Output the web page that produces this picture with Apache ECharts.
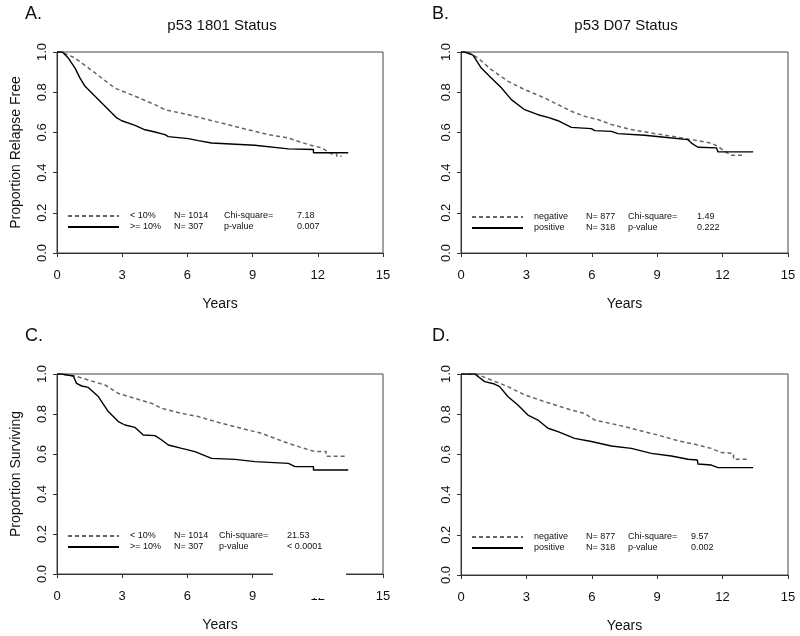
<!DOCTYPE html>
<html>
<head>
<meta charset="utf-8">
<script src="https://cdn.jsdelivr.net/npm/echarts@6/dist/echarts.min.js"></script>
<style>
html,body{margin:0;padding:0;background:#fff;}
#c{width:800px;height:636px;}
</style>
</head>
<body>
<div id="c"></div>
<script>
// ---- Data (years, proportion) ----
const xTickInterval = 3;
const yTickInterval = 0.2;

// Panel A: p53 1801 Status, relapse free
const aLow = [[0,1],[0.2,1],[0.83,0.97],[1.75,0.896],[2.67,0.82],[3.59,0.78],[4.51,0.738],[4.97,0.713],[6.04,0.688],[6.96,0.663],[7.88,0.638],[8.8,0.613],[9.73,0.589],[10.65,0.572],[11.57,0.539],[12.18,0.523],[12.64,0.493],[12.87,0.493],[12.87,0.481],[13.1,0.481]];
const aHigh = [[0,1],[0.25,1],[0.52,0.97],[0.83,0.92],[1.06,0.87],[1.29,0.829],[1.75,0.78],[2.21,0.73],[2.75,0.672],[2.98,0.658],[3.59,0.635],[4.05,0.613],[4.51,0.602],[4.97,0.589],[5.12,0.579],[6.04,0.569],[6.5,0.559],[7.11,0.547],[9.1,0.536],[10.65,0.518],[11.8,0.515],[11.8,0.499],[13.4,0.499]];

// Panel B: p53 D07 Status, relapse free
const bNeg = [[0,1],[0.32,1],[0.78,0.97],[1.39,0.912],[2.16,0.854],[2.92,0.813],[3.84,0.771],[4.45,0.738],[5.06,0.705],[5.67,0.68],[6.28,0.664],[6.9,0.639],[7.81,0.614],[8.73,0.597],[9.65,0.581],[10.57,0.564],[11.48,0.547],[11.79,0.53],[12.1,0.506],[12.4,0.486],[13.0,0.486]];
const bPos = [[0,1],[0.17,1],[0.55,0.984],[0.93,0.92],[1.39,0.871],[1.85,0.822],[2.31,0.763],[2.92,0.713],[3.53,0.688],[3.99,0.675],[4.45,0.658],[5.06,0.625],[5.98,0.619],[6.13,0.609],[6.9,0.605],[7.2,0.594],[8.42,0.586],[9.34,0.576],[10.41,0.564],[10.57,0.547],[10.87,0.526],[11.72,0.523],[11.79,0.503],[13.4,0.503]];

// Panel C: p53 1801, surviving
const cLow = [[0,1],[0.2,1],[0.83,0.99],[1.44,0.97],[2.21,0.945],[2.82,0.903],[3.59,0.878],[4.36,0.853],[4.82,0.828],[5.74,0.803],[6.5,0.787],[7.58,0.753],[8.5,0.728],[9.42,0.703],[10.03,0.678],[10.65,0.653],[11.26,0.632],[11.87,0.612],[12.38,0.612],[12.38,0.589],[13.35,0.589]];
const cHigh = [[0,1],[0.2,1],[0.75,0.99],[0.9,0.953],[1.14,0.94],[1.44,0.933],[1.9,0.887],[2.36,0.812],[2.82,0.762],[3.13,0.745],[3.59,0.733],[3.97,0.695],[4.51,0.692],[4.82,0.67],[5.12,0.645],[5.74,0.628],[6.35,0.612],[7.11,0.578],[8.19,0.573],[9.11,0.562],[10.65,0.553],[10.95,0.537],[11.8,0.537],[11.8,0.52],[13.4,0.52]];

// Panel D: p53 D07, surviving
const dNeg = [[0,1],[0.7,1],[1.39,0.97],[2.16,0.937],[2.92,0.896],[3.84,0.862],[5.06,0.821],[5.67,0.804],[6.13,0.771],[7.2,0.746],[8.12,0.721],[9.04,0.696],[9.95,0.668],[10.87,0.647],[11.48,0.63],[11.94,0.609],[12.5,0.605],[12.5,0.576],[13.24,0.576]];
const dPos = [[0,1],[0.63,1],[1.09,0.962],[1.54,0.95],[1.77,0.937],[2.16,0.887],[2.61,0.846],[3.07,0.796],[3.53,0.771],[3.99,0.73],[4.45,0.713],[5.21,0.68],[5.98,0.664],[6.9,0.642],[7.81,0.63],[8.73,0.605],[9.65,0.592],[10.41,0.576],[10.84,0.572],[10.87,0.552],[11.48,0.547],[11.79,0.534],[13.4,0.534]];

// Legend / statistics text
const legA = [['< 10%','N= 1014','Chi-square=','7.18'],['>= 10%','N= 307','p-value','0.007']];
const legB = [['negative','N= 877','Chi-square=','1.49'],['positive','N= 318','p-value','0.222']];
const legC = [['< 10%','N= 1014','Chi-square=','21.53'],['>= 10%','N= 307','p-value','< 0.0001']];
const legD = [['negative','N= 877','Chi-square=','9.57'],['positive','N= 318','p-value','0.002']];

const titles = ['p53 1801 Status','p53 D07 Status','',''];
const letters = ['A.','B.','C.','D.'];
const yNames = ['Proportion Relapse Free','','Proportion Surviving',''];
const xName = 'Years';

// ---- Layout ----
const grids = [
  {left:57, top:52, width:326, height:201},
  {left:461, top:52, width:327, height:201},
  {left:57, top:374, width:326, height:200},
  {left:461, top:374, width:327, height:201}
];
const legendPos = [
  {left:67, top:211, cols:[44,50,73]},
  {left:471, top:212, cols:[52,42,69]},
  {left:67, top:531, cols:[44,45,68]},
  {left:471, top:532, cols:[52,42,63]}
];
const panels = [[aLow,aHigh,legA],[bNeg,bPos,legB],[cLow,cHigh,legC],[dNeg,dPos,legD]];

const FONT = 'Liberation Sans, Arial, sans-serif';
const axisColor = '#333';
const dashColor = '#666';
const solidColor = '#000';

const xAxes = [], yAxes = [], series = [], legends = [], graphics = [];
const legendText = {};

panels.forEach((p, i) => {
  xAxes.push({
    type:'value', gridIndex:i, min:0, max:15, interval:xTickInterval,
    name:xName, nameLocation:'middle', nameGap:44,
    nameTextStyle:{fontFamily:FONT, fontSize:14, color:'#111'},
    axisLine:{show:true, lineStyle:{color:axisColor, width:1}},
    axisTick:{show:true, length:4, lineStyle:{color:axisColor}},
    axisLabel:{fontFamily:FONT, fontSize:13, color:'#111', margin:16},
    splitLine:{show:false}
  });
  yAxes.push({
    type:'value', gridIndex:i, min:0, max:1, interval:yTickInterval,
    name:yNames[i], nameLocation:'middle', nameGap:34,
    nameTextStyle:{fontFamily:FONT, fontSize:14, color:'#111'},
    axisLine:{show:true, lineStyle:{color:axisColor, width:1}},
    axisTick:{show:true, length:4, lineStyle:{color:axisColor}},
    axisLabel:{fontFamily:FONT, fontSize:13, color:'#111', rotate:90, margin:8,
      formatter:v => v.toFixed(1)},
    splitLine:{show:false}
  });
  const names = ['s'+i+'a','s'+i+'b'];
  const leg = p[2];
  const cols = legendPos[i].cols;
  names.forEach((nm, k) => {
    legendText[nm] = '{sp| }{a|'+leg[k][0]+'}{b|'+leg[k][1]+'}{c|'+leg[k][2]+'}{d|'+leg[k][3]+'}';
  });
  series.push({
    name:names[0], type:'line', xAxisIndex:i, yAxisIndex:i, data:p[0],
    symbol:'none', showSymbol:false, silent:true, animation:false, color:dashColor,
    itemStyle:{color:dashColor},
    lineStyle:{color:dashColor, width:1.5, type:[4,3]}
  });
  series.push({
    name:names[1], type:'line', xAxisIndex:i, yAxisIndex:i, data:p[1],
    symbol:'none', showSymbol:false, silent:true, animation:false, color:solidColor,
    itemStyle:{color:solidColor},
    lineStyle:{color:solidColor, width:1.4, type:'solid'}
  });
  legends.push({
    data:names, orient:'vertical', left:legendPos[i].left, top:legendPos[i].top,
    itemWidth:51, itemHeight:10, itemGap:1, padding:0, selectedMode:false,
    itemStyle:{opacity:0, borderWidth:0},
    lineStyle:{opacity:1},
    formatter: nm => legendText[nm],
    textStyle:{fontFamily:FONT, fontSize:9, color:'#111', lineHeight:10,
      rich:{
        sp:{width:6, fontSize:9, lineHeight:10},
        a:{width:cols[0], fontSize:9, fontFamily:FONT, color:'#111', lineHeight:10},
        b:{width:cols[1], fontSize:9, fontFamily:FONT, color:'#111', lineHeight:10},
        c:{width:cols[2], fontSize:9, fontFamily:FONT, color:'#111', lineHeight:10},
        d:{fontSize:9, fontFamily:FONT, color:'#111', lineHeight:10}
      }}
  });
});

// Titles and panel letters
const letterPos = [[25,15],[432,15],[25,337],[432,337]];
letters.forEach((t, i) => {
  graphics.push({type:'text', left:letterPos[i][0], top:letterPos[i][1]-10,
    style:{text:t, fontFamily:FONT, fontSize:18, fill:'#111'}});
});
const titlePos = [[222,26],[626,26]];
titles.forEach((t, i) => {
  if (!t) return;
  graphics.push({type:'text', x:titlePos[i][0], y:titlePos[i][1],
    style:{text:t, fontFamily:FONT, fontSize:15, fill:'#111', align:'center', verticalAlign:'middle'}});
});
// White patch over part of panel C's x axis (present in the reference image)
graphics.push({type:'rect', shape:{x:273, y:571, width:73, height:27}, style:{fill:'#fff'}, z:100});

const chart = echarts.init(document.getElementById('c'), null, {renderer:'canvas'});
chart.setOption({
  animation:false,
  backgroundColor:'#fff',
  grid: grids.map(g => Object.assign({show:true, borderColor:'#444', borderWidth:1, backgroundColor:'transparent'}, g)),
  xAxis:xAxes, yAxis:yAxes, series:series, legend:legends, graphic:graphics
});
</script>
</body>
</html>
